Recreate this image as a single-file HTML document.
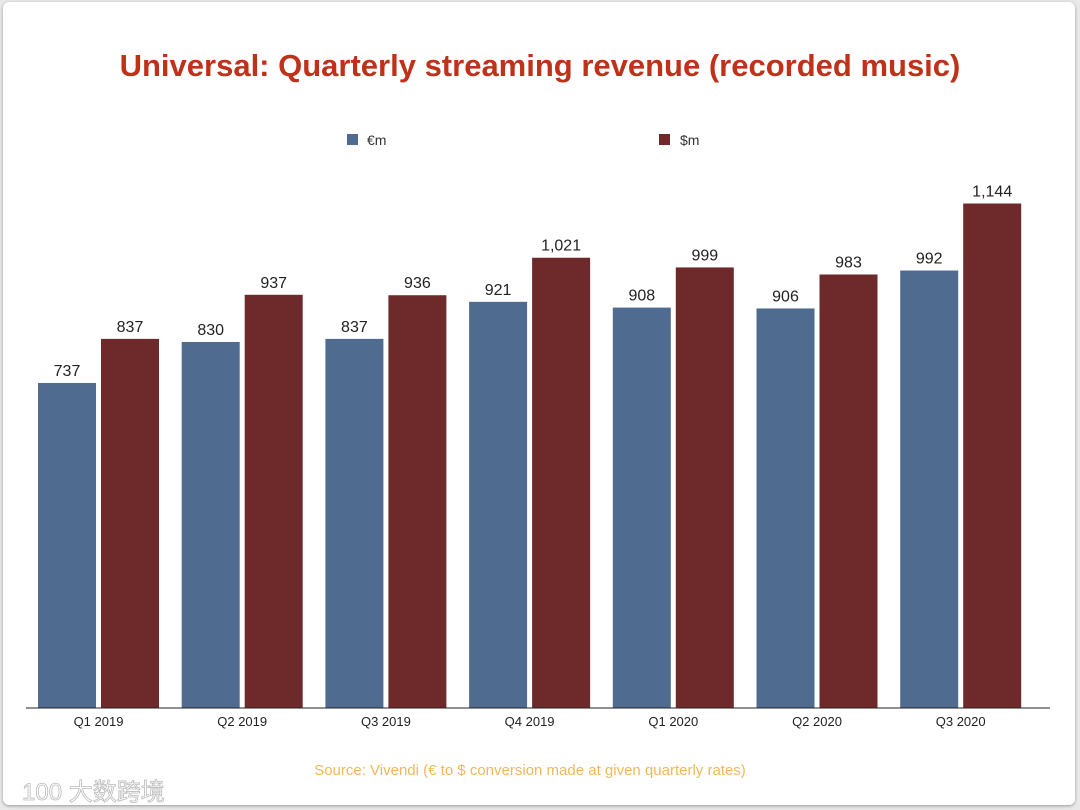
<!DOCTYPE html>
<html><head><meta charset="utf-8"><style>
body{margin:0;width:1080px;height:810px;background:#e9e9e9;overflow:hidden;font-family:"Liberation Sans","Noto Sans CJK SC",sans-serif}
#card{position:absolute;left:3px;top:2px;width:1072px;height:803px;background:#fff;border-radius:6px;box-shadow:0 1px 3px rgba(0,0,0,.35)}
</style></head><body>
<div id="card"></div>
<svg id="chart" width="1080" height="810" style="position:absolute;left:0;top:0">
<text x="540" y="76" text-anchor="middle" font-size="31" font-weight="bold" fill="#c0311a">Universal: Quarterly streaming revenue (recorded music)</text>
<g><rect x="347" y="134" width="11" height="11" fill="#4f6b8f"/><text x="367" y="145" font-size="14" fill="#333">€m</text></g>
<g><rect x="659" y="134" width="11" height="11" fill="#6e2a2a"/><text x="680" y="145" font-size="14" fill="#333">$m</text></g>
<g id="bars"></g>
<line x1="26" y1="708" x2="1050" y2="708" stroke="#222" stroke-width="1"/>
<text x="530" y="775" text-anchor="middle" font-size="15" fill="#f0b85a">Source: Vivendi (€ to $ conversion made at given quarterly rates)</text>
<text x="22" y="800" font-size="24" fill="#fff" stroke="#bbb" stroke-width="0.8">100 大数跨境</text>
</svg>
<script>
const categories=["Q1 2019","Q2 2019","Q3 2019","Q4 2019","Q1 2020","Q2 2020","Q3 2020"];
const eurValues=[737,830,837,921,908,906,992];
const usdValues=[837,937,936,1021,999,983,1144];
const eurLabels=["737","830","837","921","908","906","992"];
const usdLabels=["837","937","936","1,021","999","983","1,144"];
const base=708, scale=0.441, x0=38, step=143.7, bw=58;
const y=v=>base-v*scale;
const g=document.getElementById('bars');
const NS='http://www.w3.org/2000/svg';
function mk(t,a){const e=document.createElementNS(NS,t);for(const k in a)e.setAttribute(k,a[k]);return e;}
categories.forEach((c,i)=>{
 const gx=x0+i*step;
 [[eurValues,eurLabels,'#4f6b8f',gx,'eur'],[usdValues,usdLabels,'#6e2a2a',gx+63,'usd']].forEach(([vals,labs,col,x,s])=>{
  const r=mk('rect',{x:x,y:y(vals[i]),width:bw,height:vals[i]*scale,fill:col});
  
  
  g.appendChild(r);
  const t=mk('text',{x:x+bw/2,y:y(vals[i])-7,'text-anchor':'middle','font-size':'16',fill:'#222'});
  t.textContent=labs[i];
  
  
  g.appendChild(t);
 });
 const l=mk('text',{x:gx+60.5,y:726,'text-anchor':'middle','font-size':'13',fill:'#222'});
 l.textContent=c;
 
 
 g.appendChild(l);
});
</script>
</body></html>
